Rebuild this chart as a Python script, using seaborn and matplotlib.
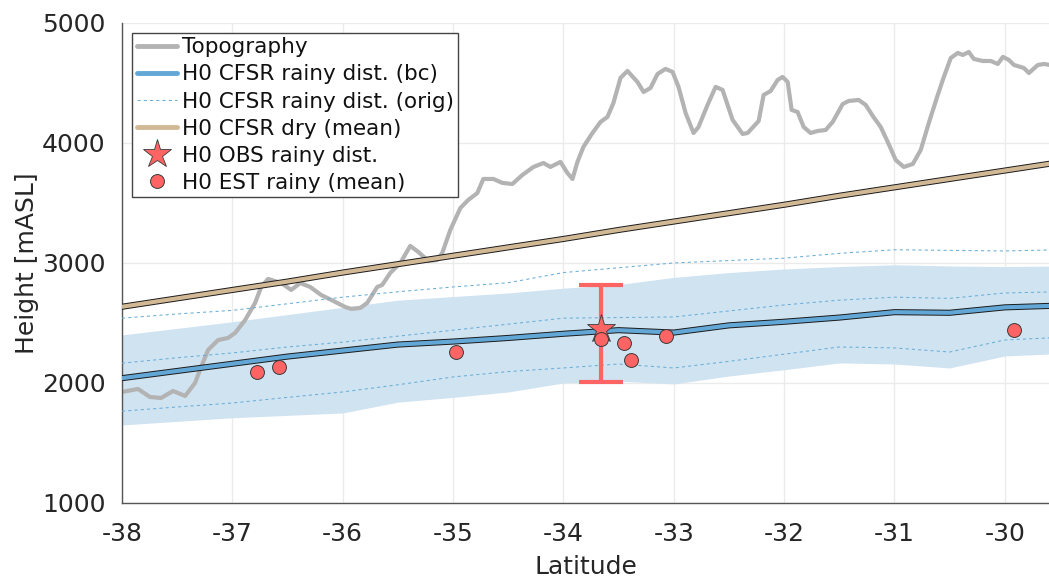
import matplotlib
matplotlib.use("Agg")
import matplotlib.pyplot as plt
import matplotlib.patheffects as pe
from matplotlib.lines import Line2D
import numpy as np
import pandas as pd
import seaborn as sns

# ---------------- data ----------------
grid_lat = [-38.0, -37.5, -37.0, -36.5, -36.0, -35.5, -35.0, -34.5, -34.0,
            -33.5, -33.0, -32.5, -32.0, -31.5, -31.0, -30.5, -30.0, -29.5]
dry_mean = [2635, 2705, 2775, 2845, 2920, 2990, 3060, 3130, 3200,
            3275, 3345, 3415, 3485, 3560, 3630, 3700, 3770, 3840]
bc_mean = [2040, 2100, 2160, 2220, 2270, 2320, 2345, 2375, 2410,
           2440, 2420, 2480, 2510, 2545, 2590, 2585, 2630, 2645]
bc_upper = [2400, 2455, 2510, 2570, 2630, 2690, 2720, 2750, 2790,
            2820, 2880, 2920, 2950, 2970, 2985, 2975, 2970, 2975]
bc_lower = [1650, 1680, 1710, 1730, 1750, 1840, 1880, 1925, 2000,
            2015, 1992, 2058, 2110, 2167, 2158, 2125, 2225, 2245]
orig_upper = [2540, 2575, 2605, 2660, 2715, 2760, 2800, 2835, 2920,
              2960, 3000, 3020, 3040, 3080, 3110, 3105, 3100, 3110]
orig_mid = [2165, 2210, 2250, 2300, 2340, 2390, 2440, 2490, 2540,
            2545, 2550, 2600, 2650, 2690, 2715, 2705, 2750, 2760]
orig_lower = [1765, 1800, 1833, 1880, 1925, 1985, 2050, 2095, 2125,
              2158, 2125, 2180, 2240, 2300, 2292, 2258, 2358, 2380]

topo_lat = [-38.0, -37.855, -37.746, -37.646, -37.537, -37.428, -37.338, -37.283,
            -37.220, -37.129, -37.039, -36.975, -36.884, -36.794, -36.739, -36.676,
            -36.558, -36.467, -36.385, -36.295, -36.195, -36.104, -35.977, -35.923,
            -35.841, -35.778, -35.687, -35.642, -35.569, -35.478, -35.388, -35.315,
            -35.224, -35.143, -35.098, -35.025, -34.934, -34.862, -34.780, -34.726,
            -34.635, -34.553, -34.463, -34.372, -34.272, -34.181, -34.118, -34.027,
            -33.964, -33.918, -33.873, -33.819, -33.737, -33.664, -33.601, -33.547,
            -33.483, -33.420, -33.329, -33.274, -33.211, -33.147, -33.075, -33.011,
            -32.957, -32.893, -32.821, -32.776, -32.694, -32.621, -32.558, -32.467,
            -32.376, -32.331, -32.231, -32.186, -32.122, -32.059, -32.014, -31.968,
            -31.932, -31.878, -31.823, -31.760, -31.696, -31.624, -31.560, -31.469,
            -31.415, -31.324, -31.261, -31.197, -31.125, -31.061, -30.989, -30.916,
            -30.834, -30.762, -30.689, -30.608, -30.553, -30.490, -30.426, -30.381,
            -30.327, -30.281, -30.200, -30.127, -30.064, -30.018, -29.964, -29.918,
            -29.828, -29.782, -29.701, -29.646, -29.592, -29.5]
topo_h = [1925, 1950, 1883, 1875, 1933, 1892, 2000, 2133,
          2275, 2358, 2375, 2417, 2525, 2667, 2800, 2867,
          2833, 2775, 2833, 2800, 2733, 2692, 2633, 2617,
          2625, 2667, 2800, 2817, 2917, 3000, 3142, 3092,
          3017, 3025, 3083, 3275, 3458, 3525, 3583, 3700,
          3700, 3667, 3658, 3733, 3800, 3833, 3800, 3842,
          3750, 3700, 3842, 3967, 4083, 4175, 4217, 4333,
          4542, 4600, 4508, 4425, 4458, 4575, 4617, 4592,
          4467, 4250, 4083, 4133, 4317, 4467, 4442, 4192,
          4075, 4083, 4183, 4400, 4433, 4525, 4550, 4508,
          4275, 4258, 4133, 4083, 4100, 4108, 4175, 4325,
          4350, 4358, 4317, 4225, 4133, 4008, 3858, 3800,
          3825, 3942, 4167, 4400, 4550, 4708, 4750, 4733,
          4758, 4700, 4683, 4683, 4658, 4717, 4692, 4650,
          4625, 4583, 4650, 4658, 4650, 4650]

est_lat = [-36.78, -36.58, -34.97, -33.66, -33.45, -33.39, -33.07, -29.92]
est_h = [2090, 2130, 2262, 2365, 2330, 2190, 2395, 2440]

obs_lat = [-33.66]
obs_h = [2450]
obs_lo = [2010]
obs_hi = [2820]

xticks = [-38, -37, -36, -35, -34, -33, -32, -31, -30]
yticks = [1000, 2000, 3000, 4000, 5000]

# ---------------- styling ----------------
sns.set_theme(style="whitegrid")
plt.rcParams["font.family"] = ["DejaVu Sans"]
txt = "#262626"

fig = plt.figure(figsize=(10.49, 5.78), dpi=100)
ax = fig.add_axes([0.1163, 0.1298, 0.8837, 0.8305])

df_grid = pd.DataFrame({"lat": grid_lat, "dry": dry_mean, "bc": bc_mean,
                        "up": bc_upper, "lo": bc_lower, "ou": orig_upper,
                        "om": orig_mid, "ol": orig_lower})
df_topo = pd.DataFrame({"lat": topo_lat, "h": topo_h})
df_est = pd.DataFrame({"lat": est_lat, "h": est_h})

band_c = "#d0e3f1"
blue = "#62a7d6"
tan = "#d2b996"
grey = "#b3b3b3"
red = "#ff6464"

ax.fill_between(df_grid["lat"], df_grid["lo"], df_grid["up"], color=band_c,
                linewidth=0, zorder=1)

sns.lineplot(data=df_topo, x="lat", y="h", color=grey, linewidth=3.0,
             sort=False, ax=ax, zorder=2)

for col in ["ou", "om", "ol"]:
    sns.lineplot(data=df_grid, x="lat", y=col, color="#6aaed6", linewidth=0.75,
                 linestyle=(0, (3, 3)), sort=False, ax=ax, zorder=3)

sns.lineplot(data=df_grid, x="lat", y="bc", color=blue, linewidth=3.0,
             sort=False, ax=ax, zorder=4,
             path_effects=[pe.Stroke(linewidth=4.4, foreground="#1a1a1a"), pe.Normal()])
sns.lineplot(data=df_grid, x="lat", y="dry", color=tan, linewidth=3.0,
             sort=False, ax=ax, zorder=4,
             path_effects=[pe.Stroke(linewidth=4.4, foreground="#1a1a1a"), pe.Normal()])

err_lo = np.array(obs_h) - np.array(obs_lo)
err_hi = np.array(obs_hi) - np.array(obs_h)
ax.errorbar(obs_lat, obs_h, yerr=[err_lo, err_hi], fmt="none", ecolor=red,
            elinewidth=3.0, capsize=15.5, capthick=3.0, zorder=5)
ax.plot(obs_lat, obs_h, linestyle="none", marker="*", markersize=21,
        markerfacecolor=red, markeredgecolor="#3a3a3a", markeredgewidth=0.6, zorder=6)
sns.scatterplot(data=df_est, x="lat", y="h", s=100, color=red,
                edgecolor="#3a3a3a", linewidth=0.7, ax=ax, zorder=7)

ax.set_xlim(-38, -29.6)
ax.set_ylim(1000, 5000)
ax.set_xticks(xticks)
ax.set_xticklabels([str(t) for t in xticks])
ax.set_yticks(yticks)
ax.set_yticklabels([str(t) for t in yticks])
ax.tick_params(axis="both", labelsize=18, colors=txt, direction="out",
               length=7, width=0.8, color="#555555", pad=5)
ax.tick_params(axis="x", pad=7)
ax.set_xlabel("Latitude", fontsize=18, color=txt)
ax.set_ylabel("Height [mASL]", fontsize=18, color=txt)
ax.xaxis.set_label_coords(0.5, -0.108)
ax.yaxis.set_label_coords(-0.089, 0.5)

ax.grid(True, color="#ebebeb", linewidth=1.0)
ax.set_facecolor("white")
for s in ["top", "right"]:
    ax.spines[s].set_visible(False)
for s in ["left", "bottom"]:
    ax.spines[s].set_color("#555555")
    ax.spines[s].set_linewidth(1.0)

handles = [
    Line2D([], [], color=grey, linewidth=3.5),
    Line2D([], [], color=blue, linewidth=3.5),
    Line2D([], [], color="#6aaed6", linewidth=0.75, linestyle=(0, (3, 3))),
    Line2D([], [], color=tan, linewidth=3.5),
    Line2D([], [], linestyle="none", marker="*", markersize=21,
           markerfacecolor=red, markeredgecolor="#3a3a3a", markeredgewidth=0.6),
    Line2D([], [], linestyle="none", marker="o", markersize=10,
           markerfacecolor=red, markeredgecolor="#3a3a3a", markeredgewidth=0.7),
]
labels = ["Topography", "H0 CFSR rainy dist. (bc)", "H0 CFSR rainy dist. (orig)",
          "H0 CFSR dry (mean)", "H0 OBS rainy dist.", "H0 EST rainy (mean)"]
leg = ax.legend(handles, labels, loc="upper left", bbox_to_anchor=(0.011, 0.979),
                fontsize=15.5, frameon=True, fancybox=False, framealpha=1,
                edgecolor="#444444", borderpad=0.2, labelspacing=0.33,
                handlelength=1.9, handletextpad=0.2, borderaxespad=0)
leg.get_frame().set_linewidth(1.0)
for t in leg.get_texts():
    t.set_color("#111111")

fig.savefig("out.png", dpi=100)
